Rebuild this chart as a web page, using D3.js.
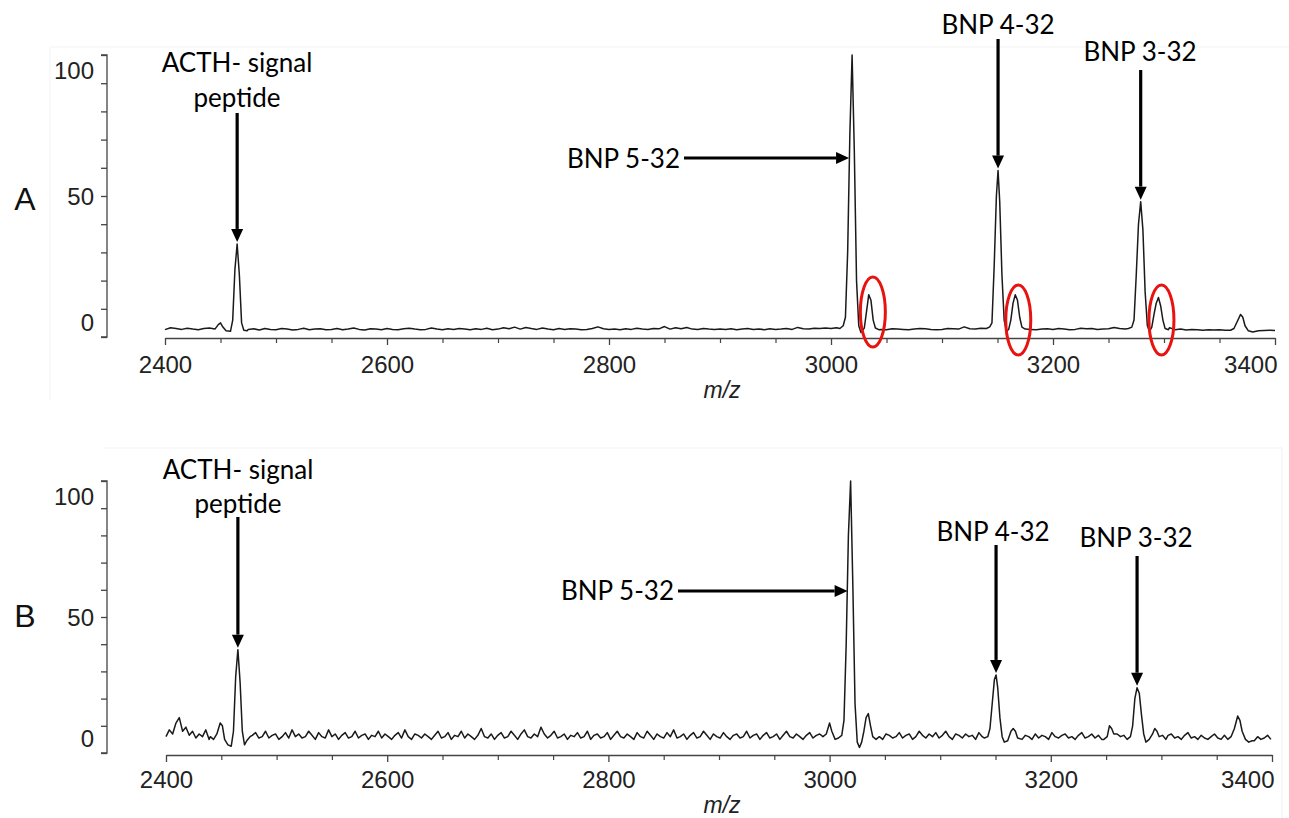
<!DOCTYPE html>
<html>
<head>
<meta charset="utf-8">
<script src="https://cdn.jsdelivr.net/npm/d3@7"></script>
<style>
  body { margin: 0; background: #fff; }
  svg { display: block; }
</style>
</head>
<body>
<svg id="fig" width="1289" height="818"></svg>
<script>
// ---------------- data ----------------
// x axis (m/z) and y axis (relative intensity, %)
const mzMajorTicks = [2400, 2600, 2800, 3000, 3200, 3400];
const mzMinorTicks = [2450, 2500, 2550, 2650, 2700, 2750, 2850, 2900, 2950,
                      3050, 3100, 3150, 3250, 3300, 3350];
const intensityTicks = [0, 10, 20, 30, 40, 50, 60, 70, 80, 90, 100];
const intensityLabels = [0, 50, 100];
const panelLetters = ["A", "B"];

// spectrum A: baseline sampled every 5 m/z from 2400 to 3400
const baseA_start = 2400, baseA_step = 5;
const baseA = [
  2.6,3.3,3.0,2.7,3.1,2.8,2.6,3.0,3.2,2.7, 2.9,3.0,2.8,2.7,2.6,2.7,2.9,2.5,3.0,2.7,
  2.6,3.0,2.8,2.5,2.7,3.1,2.6,2.8,2.9,2.6, 2.7,3.0,2.6,2.8,3.2,2.7,2.5,2.9,2.8,2.6,
  3.0,2.7,2.6,2.9,3.1,2.8,2.6,2.7,3.2,2.8, 2.6,2.9,2.7,3.0,2.8,2.6,2.9,2.7,3.1,2.6,
  2.8,3.3,2.9,3.5,2.8,3.4,3.0,2.7,3.2,2.8, 2.6,3.0,2.7,2.9,2.8,2.6,2.7,3.0,3.6,2.9,
  2.7,2.8,2.6,2.9,2.7,3.1,2.8,2.7,3.0,2.9, 3.7,2.8,3.3,2.9,3.4,2.8,2.7,3.0,2.8,2.7,
  2.8,2.7,2.9,2.6,2.8,3.0,2.7,2.8,2.6,2.9, 2.7,2.8,3.0,2.7,3.4,2.9,2.8,3.1,3.0,3.2,
  3.0,3.3,3.1,3.0,3.2,2.9,3.0,3.1,2.8,2.7, 2.6,2.9,2.8,2.7,2.6,2.8,3.0,2.9,2.7,2.6,
  2.7,3.0,2.9,2.8,3.6,2.9,2.8,3.1,3.4,2.9, 2.8,3.0,2.9,2.8,3.0,2.9,2.7,2.6,2.8,2.9,
  2.7,3.0,2.8,2.6,2.7,3.1,2.9,3.0,2.7,2.8, 2.9,3.4,3.0,2.8,3.0,2.9,3.2,2.8,2.9,3.0,
  2.7,3.3,2.6,2.8,2.5,2.7,2.6,2.4,2.6,2.5, 2.6,2.4,2.2,2.4,2.3,2.5,2.4,2.2,2.3,2.4,
  2.3
];
// spectrum A: peak profiles [m/z, intensity]
const peaksA = [
  [[2445,2.8],[2448,4.4],[2450,5.0],[2452,3.6],[2455,2.2],[2459,2.0],[2461,6],[2463,24],
   [2465,33],[2467,22],[2469,5],[2471,2.4],[2474,2.2]],
  [[3008,3.0],[3011,4.0],[3013,7],[3015,30],[3017,72],[3019,100],[3021,66],[3023,20],
   [3025,4],[3027,1.6],[3030,3.2],[3032,9],[3034,15],[3036,13],[3038,6],[3040,3.2],[3043,2.6]],
  [[3140,3.0],[3143,3.6],[3145,5],[3147,25],[3149,50],[3150.5,59],[3152,48],[3154,22],
   [3156,6],[3158,2.2],[3160,2.6],[3162,6],[3164,12],[3166,15],[3168,13],[3170,7],[3172,3.5],[3175,2.8]],
  [[3268,3.0],[3271,3.5],[3273,6],[3275,22],[3277,40],[3279,48],[3281,38],[3283,16],
   [3285,4],[3287,2.0],[3289,3.5],[3291,8],[3293,12],[3295,14],[3297,11],[3299,6],[3301,3],[3304,2.6]],
  [[3360,2.4],[3363,3],[3366,5.5],[3369,8],[3371,7],[3373,4],[3376,2.2],[3380,1.8]]
];

// spectrum B: baseline sampled every 3 m/z from 2400 to 3399
const baseB_start = 2400, baseB_step = 3;
const baseB = [
  6.0,8.5,7.0,11.0,13.0,8.0,9.5,6.5,8.0,5.5, 7.0,6.0,8.5,5.0,7.5,6.0,5.0,7.0,5.5,6.5,
  6.0,5.0,6.5,5.5,7.0,5.0,6.5,7.5,5.5,6.0, 8.0,5.5,6.5,7.0,5.0,6.0,7.5,5.5,8.5,6.0,
  7.0,5.5,6.0,8.0,6.5,5.0,7.5,6.0,5.5,8.5, 6.0,7.0,5.0,6.5,7.5,5.5,6.0,8.0,5.5,6.5,
  7.0,5.0,6.5,6.0,8.0,5.5,7.0,6.0,5.0,6.5, 7.5,5.5,8.5,6.0,5.0,7.0,6.5,5.5,7.0,6.0,
  5.0,6.5,8.0,5.5,6.0,7.5,5.0,6.5,6.0,8.0, 5.5,7.0,6.0,5.0,6.5,9.0,6.0,5.5,7.0,5.0,
  6.5,7.5,5.5,6.0,8.0,6.5,5.0,7.0,8.5,6.0, 5.5,7.0,6.0,9.5,7.0,5.5,6.5,8.0,5.5,6.0,
  7.0,5.0,6.5,6.0,7.5,5.5,6.0,8.0,5.0,6.5, 7.0,5.5,6.0,7.5,5.0,6.5,8.0,6.0,5.5,7.0,
  6.0,5.0,7.5,6.0,5.5,8.0,6.5,5.0,7.0,6.0, 5.5,7.5,6.0,8.5,5.5,6.0,7.0,5.0,6.5,7.5,
  5.5,6.0,8.0,6.5,5.0,7.0,6.0,5.5,7.5,6.0, 5.0,6.5,7.0,5.5,6.0,8.0,5.5,6.5,7.0,5.0,
  6.5,7.5,5.5,6.0,7.0,5.0,6.5,8.0,6.0,5.5, 7.0,6.0,5.0,6.5,7.5,5.5,6.5,7.0,6.0,7.5,
  7.0,8.5,9.0,6.5,7.0,8.0,9.0,6.0,4.0,3.0, 4.5,8.0,9.5,7.0,5.5,6.5,5.0,7.0,6.5,5.5,
  6.0,7.5,5.5,6.5,7.0,5.0,6.0,8.0,6.5,5.5, 7.0,6.0,7.5,5.5,6.5,8.0,6.0,5.0,7.0,6.5,
  5.5,7.0,6.0,6.5,5.0,7.5,6.0,8.5,9.0,7.0, 6.0,5.0,4.5,7.0,8.5,6.0,5.5,6.0,5.5,6.5,
  6.0,5.0,7.0,5.5,6.5,6.0,5.0,7.5,6.0,5.5, 6.5,7.0,5.5,6.0,5.0,6.5,7.5,5.5,6.0,7.0,
  5.5,6.5,5.0,6.0,7.0,6.5,8.0,7.5,6.0,5.5, 6.5,7.0,8.5,9.0,7.0,5.5,4.5,6.0,7.0,6.0,
  6.0,5.0,6.5,7.0,5.5,6.0,5.0,6.5,7.5,5.5, 6.0,5.0,6.5,5.5,5.0,6.0,7.0,5.5,5.0,6.5,
  5.0,6.0,5.5,8.0,11.0,7.0,4.5,5.5,4.5,6.0, 5.0,5.5,6.5,5.0
];
// spectrum B: peak profiles [m/z, intensity]
const peaksB = [
  [[2440,6],[2443,5],[2446,7],[2449,11],[2451,10],[2453,5],[2456,3],[2459,2.5],[2461,8],
   [2463,28],[2465,38],[2467,26],[2469,8],[2471,3],[2473,4.5],[2476,6]],
  [[2994,6],[2997,7],[3000,11],[3002,8],[3005,5],[3008,5.5],[3011,6.5],[3013,12],[3015,40],
   [3017,80],[3019,100],[3021,62],[3023,18],[3025,4],[3027,2],[3029,4],[3031,8],[3033,13],
   [3035,14.5],[3037,10],[3039,6],[3042,5],[3045,6]],
  [[3140,5.5],[3143,6],[3145,9],[3147,18],[3149,27],[3150.5,28.7],[3152,24],[3154,13],
   [3156,6],[3158,4],[3161,4.5],[3164,8],[3166,9],[3168,8],[3170,5.5],[3174,5]],
  [[3248,5],[3251,6],[3253,10],[3255,9],[3257,7],[3260,7],[3263,6],[3266,6.5],[3269,5],
   [3272,6],[3274,10],[3276,20],[3278,24],[3280,22],[3282,14],[3284,7],[3286,4],[3289,5],
   [3292,7],[3294,9],[3296,8],[3298,6],[3301,6.5],[3304,5]],
  [[3360,5],[3363,6],[3366,9],[3369,13.6],[3371,12],[3373,8],[3376,5],[3379,4],[3382,4.5]]
];

// annotated peaks: label lines, m/z and intensity of the apex
const annotA = [
  { lines: ["ACTH- signal", "peptide"], mz: 2465, inten: 33 },
  { lines: ["BNP 5-32"], mz: 3019, inten: 100 },
  { lines: ["BNP 4-32"], mz: 3150.5, inten: 59 },
  { lines: ["BNP 3-32"], mz: 3279, inten: 48 }
];
const annotB = [
  { lines: ["ACTH- signal", "peptide"], mz: 2465, inten: 38 },
  { lines: ["BNP 5-32"], mz: 3019, inten: 100 },
  { lines: ["BNP 4-32"], mz: 3150.5, inten: 28.7 },
  { lines: ["BNP 3-32"], mz: 3278, inten: 24 }
];
// satellite peaks highlighted in spectrum A
const circledA = [3035, 3166, 3295];

// ---------------- drawing ----------------
const svg = d3.select("#fig");

function buildSpectrum(start, step, base, peaks) {
  const ranges = peaks.map(p => [p[0][0], p[p.length - 1][0]]);
  const pts = [];
  base.forEach((v, i) => {
    const mz = start + i * step;
    if (!ranges.some(r => mz >= r[0] && mz <= r[1])) pts.push([mz, v]);
  });
  peaks.forEach(p => p.forEach(d => pts.push(d)));
  pts.sort((a, b) => a[0] - b[0]);
  return pts;
}

const panels = [
  {
    letter: panelLetters[0], letterY: 210,
    xRange: [165, 1275], yRange: [337, 55], axisY: 338, labelPad: 11,
    mzTitleY: 398,
    data: buildSpectrum(baseA_start, baseA_step, baseA, peaksA),
    annot: annotA,
    layout: [
      { type: "v", tx: 237, baselines: [72, 107], from: 113 },
      { type: "h", tx: 680, baseline: 168, ay: 158, from: 684 },
      { type: "v", tx: 998, baselines: [34], from: 39 },
      { type: "v", tx: 1140, baselines: [61], from: 70 }
    ],
    circles: circledA
  },
  {
    letter: panelLetters[1], letterY: 627,
    xRange: [166, 1272], yRange: [753, 481], axisY: 755, labelPad: 9,
    mzTitleY: 813,
    data: buildSpectrum(baseB_start, baseB_step, baseB, peaksB),
    annot: annotB,
    layout: [
      { type: "v", tx: 238, baselines: [479, 513], from: 517 },
      { type: "h", tx: 674, baseline: 600, ay: 591, from: 678 },
      { type: "v", tx: 993, baselines: [541], from: 545 },
      { type: "v", tx: 1136, baselines: [547], from: 556 }
    ],
    circles: []
  }
];

// faint frame edges of the two figure panels
svg.append("line").attr("x1", 50).attr("x2", 1289).attr("y1", 47).attr("y2", 47)
  .attr("stroke", "#f3f3f3").attr("stroke-width", 1);
svg.append("line").attr("x1", 50).attr("x2", 50).attr("y1", 47).attr("y2", 400)
  .attr("stroke", "#f3f3f3").attr("stroke-width", 1);
svg.append("line").attr("x1", 105).attr("x2", 1282).attr("y1", 448).attr("y2", 448)
  .attr("stroke", "#f1f1f1").attr("stroke-width", 1);
svg.append("line").attr("x1", 1282).attr("x2", 1282).attr("y1", 448).attr("y2", 818)
  .attr("stroke", "#f1f1f1").attr("stroke-width", 1);

const annotFont = "Lato, 'Open Sans', sans-serif";
const axisFont = "'Liberation Sans', Arial, sans-serif";

function arrow(g, x1, y1, x2, y2) {
  const ang = Math.atan2(y2 - y1, x2 - x1);
  const headLen = 13, headW = 6;
  const bx = x2 - headLen * Math.cos(ang), by = y2 - headLen * Math.sin(ang);
  g.append("line").attr("x1", x1).attr("y1", y1).attr("x2", bx).attr("y2", by)
    .attr("stroke", "#000").attr("stroke-width", 3.2);
  const px = -Math.sin(ang) * headW, py = Math.cos(ang) * headW;
  g.append("path")
    .attr("d", `M${x2},${y2}L${bx + px},${by + py}L${bx - px},${by - py}Z`)
    .attr("fill", "#000");
}

panels.forEach(p => {
  const g = svg.append("g");
  const x = d3.scaleLinear().domain([2400, 3400]).range(p.xRange);
  const y = d3.scaleLinear().domain([0, 100]).range(p.yRange);

  // panel letter
  g.append("text").attr("x", 25).attr("y", p.letterY).attr("text-anchor", "middle")
    .attr("font-family", axisFont).attr("font-size", 32).attr("fill", "#111")
    .text(p.letter);

  // y axis: line with ticks every 10 %
  const yAxis = d3.axisLeft(y).tickValues(intensityTicks).tickSize(6)
    .tickSizeOuter(0).tickFormat("");
  const yg = g.append("g").attr("transform", "translate(107,0)").call(yAxis);
  yg.selectAll("path,line").attr("stroke", "#444").attr("stroke-width", 1.3);
  yg.select(".domain").attr("d", `M-6,${y(0)}H0V${y(100)}H-6`).attr("fill", "none");
  // intensity labels sit slightly inside the axis span
  g.selectAll(".ylab").data(intensityLabels).join("text")
    .attr("x", 94).attr("y", d => y(d) + (d - 50) * 0.3)
    .attr("dy", "0.36em").attr("text-anchor", "end")
    .attr("font-family", axisFont).attr("font-size", 24).attr("fill", "#222")
    .text(d => d);

  // x axis: minor and major ticks
  const xMinor = d3.axisBottom(x).tickValues(mzMinorTicks).tickSize(5).tickFormat("");
  const xmg = g.append("g").attr("transform", `translate(0,${p.axisY})`).call(xMinor);
  xmg.select(".domain").remove();
  xmg.selectAll("line").attr("stroke", "#444").attr("stroke-width", 1.2);

  const xMajor = d3.axisBottom(x).tickValues(mzMajorTicks).tickSize(7)
    .tickSizeOuter(0).tickPadding(p.labelPad).tickFormat(d3.format("d"));
  const xg = g.append("g").attr("transform", `translate(0,${p.axisY})`).call(xMajor);
  xg.selectAll("path,line").attr("stroke", "#444").attr("stroke-width", 1.3);
  xg.selectAll("text").attr("font-family", axisFont).attr("font-size", 24).attr("fill", "#222")
    .attr("text-anchor", d => d === 3400 ? "end" : "middle")
    .attr("dx", d => d === 3400 ? 2 : 0);

  g.append("text").attr("x", 722).attr("y", p.mzTitleY).attr("text-anchor", "middle")
    .attr("font-family", axisFont).attr("font-style", "italic").attr("font-size", 23)
    .attr("fill", "#222").text("m/z");

  // spectrum trace
  const line = d3.line().x(d => x(d[0])).y(d => y(d[1]));
  g.append("path").datum(p.data).attr("d", line)
    .attr("fill", "none").attr("stroke", "#1a1a1a").attr("stroke-width", 1.5)
    .attr("stroke-linejoin", "round");

  // peak annotations
  p.annot.forEach((a, i) => {
    const L = p.layout[i];
    const px = x(a.mz), py = y(a.inten);
    if (L.type === "v") {
      a.lines.forEach((t, k) => {
        g.append("text").attr("x", L.tx).attr("y", L.baselines[k]).attr("text-anchor", "middle")
          .attr("font-family", annotFont).attr("font-size", 26).attr("fill", "#000").text(t);
      });
      arrow(g, px, L.from, px, py - 2);
    } else {
      g.append("text").attr("x", L.tx).attr("y", L.baseline).attr("text-anchor", "end")
        .attr("font-family", annotFont).attr("font-size", 26).attr("fill", "#000").text(a.lines[0]);
      arrow(g, L.from, L.ay, px - 3, L.ay);
    }
  });

  // highlighted satellite peaks
  g.selectAll(".ring").data(p.circles).join("ellipse")
    .attr("cx", d => x(d) + 3).attr("cy", (d, i) => i === 0 ? 312 : 320)
    .attr("rx", 12.5).attr("ry", 35)
    .attr("fill", "none").attr("stroke", "#e8130f").attr("stroke-width", 3);
});
</script>
</body>
</html>
